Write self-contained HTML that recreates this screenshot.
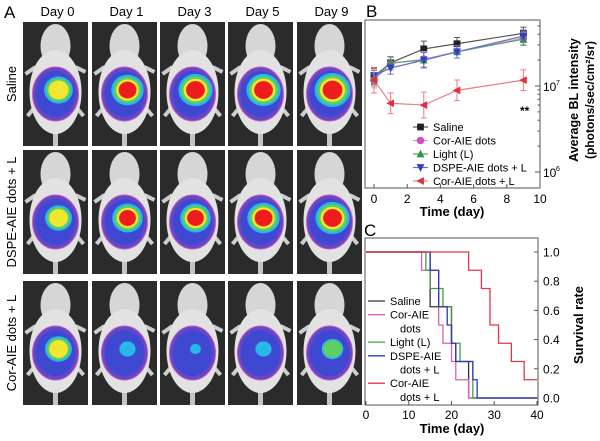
<!DOCTYPE html>
<html><head><meta charset="utf-8"><style>
body{margin:0;background:#fff;}
svg{display:block;font-family:"Liberation Sans",Arial,sans-serif;}
</style></head><body>
<svg id="fig" width="600" height="441" viewBox="0 0 600 441">
<g id="panelA"></g>
<g id="panelB"></g>
<g id="panelC"></g>
</svg>
<script>
// ---------- Panel B data ----------
const bDays = [0, 1, 3, 5, 9];
const bSeriesNames = ["Saline", "Cor-AIE dots", "Light (L)", "DSPE-AIE dots + L", "Cor-AIE dots + L"];
const bSaline = [1.29e7, 1.86e7, 2.7e7, 3.1e7, 4.1e7];
const bCorAIE = [1.17e7, 1.82e7, 2.05e7, 2.5e7, 3.6e7];
const bLight = [1.23e7, 1.86e7, 2.0e7, 2.5e7, 3.5e7];
const bDSPE = [1.32e7, 1.62e7, 2.0e7, 2.5e7, 3.8e7];
const bCorL = [1.17e7, 6.3e6, 6.0e6, 8.9e6, 1.17e7];
const bErr = [0.25, 0.2, 0.25, 0.2, 0.2];
const bXTicks = [0, 2, 4, 6, 8, 10];
// ---------- Panel C data ----------
const cXTicks = [0, 10, 20, 30, 40];
const cYTicks = ["0.0", "0.2", "0.4", "0.6", "0.8", "1.0"];
const cSalineT = [0, 15, 20, 21, 24, 40];
const cSalineS = [1, 0.625, 0.375, 0.25, 0, 0];
const cCorT = [0, 13, 17, 18, 20, 21, 24, 40];
const cCorS = [1, 0.875, 0.5, 0.375, 0.25, 0.125, 0, 0];
const cLightT = [0, 14, 15, 18, 20, 22, 25, 40];
const cLightS = [1, 0.875, 0.75, 0.625, 0.375, 0.25, 0, 0];
const cDSPET = [0, 15, 17, 19, 20, 21, 25, 26, 40];
const cDSPES = [1, 0.875, 0.625, 0.5, 0.375, 0.25, 0.125, 0, 0];
const cCorLT = [0, 24, 27, 29, 31, 34, 37, 40];
const cCorLS = [1, 0.875, 0.75, 0.5, 0.375, 0.25, 0.125, 0.125];
// ---------- Panel A data (signal level per image) ----------
const aDays = ["Day 0", "Day 1", "Day 3", "Day 5", "Day 9"];
const aGroups = ["Saline", "DSPE-AIE dots + L", "Cor-AIE dots + L"];
const aLevels = [[0.8, 0.9, 0.95, 0.95, 1.0], [0.75, 0.85, 0.85, 0.9, 0.95], [0.75, 0.45, 0.3, 0.45, 0.6]];

const NS = "http://www.w3.org/2000/svg";
function mk(tag, attrs, parent, text) {
  const e = document.createElementNS(NS, tag);
  for (const k in attrs) e.setAttribute(k, attrs[k]);
  if (text !== undefined) e.textContent = text;
  parent.appendChild(e);
  return e;
}

// ================= Panel A =================
const A = document.getElementById("panelA");
let t = mk("text", {x: 4, y: 18, "font-size": 17}, A, "A");


const colX = [23, 92, 160, 228, 297];
const colW = 65;
const rowY = [22, 150, 281];
const rowH = 124;
aDays.forEach((d, i) => {
  const h = mk("text", {x: colX[i] + colW / 2 + 2, y: 16, "font-size": 13, "text-anchor": "middle"}, A, d);
  
  
});
aGroups.forEach((g, r) => {
  const cy = rowY[r] + rowH / 2;
  const l = mk("text", {x: 16, y: cy, "font-size": 13, "text-anchor": "middle", transform: `rotate(-90 16 ${cy})`}, A, g);
  
  
});
const heat = ["#6a46c4", "#3f48d0", "#28b8e8", "#5cd060", "#f0e830", "#ee1c1c"];
aGroups.forEach((g, r) => {
  aDays.forEach((d, c) => {
    const x = colX[c], y = rowY[r], cx = x + colW / 2;
    const cell = mk("g", {}, A);
    
    
    mk("rect", {x: x, y: y, width: colW, height: rowH, fill: "#2b2b2b"}, cell);
    mk("rect", {x: cx - 2.5, y: y + rowH - 35, width: 5, height: 35, fill: "#c4c4c4"}, cell);
    mk("path", {d: `M${cx-18},${y+rowH-42} L${cx-28},${y+rowH-30} M${cx+18},${y+rowH-42} L${cx+28},${y+rowH-30} M${cx-20},${y+45} L${cx-30},${y+52} M${cx+20},${y+45} L${cx+30},${y+50}`, stroke: "#cdcdcd", "stroke-width": 4, fill: "none"}, cell);
    mk("ellipse", {cx: cx, cy: y + 24, rx: 15, ry: 22, fill: "#d6d6d6"}, cell);
    mk("ellipse", {cx: cx, cy: y + 70, rx: 26, ry: 42, fill: "#e2e2e2"}, cell);
    const lv = aLevels[r][c];
    const by = y + 72;
    const rx0 = 23, ry0 = 27;
    mk("ellipse", {cx: cx, cy: by, rx: rx0, ry: ry0, fill: heat[0], stroke: "#c060c0", "stroke-width": 1}, cell);
    mk("ellipse", {cx: cx, cy: by, rx: rx0 - 3, ry: ry0 - 4, fill: heat[1]}, cell);
    const n = Math.round(lv * 5.5);
    for (let k = 2; k <= n && k < 6; k++) {
      const s = lv * (1 - (k - 2) * 0.15);
      mk("ellipse", {cx: cx + 3, cy: by - 4, rx: 18 * s, ry: 17 * s, fill: heat[k]}, cell);
    }
  });
});

// ================= Panel B =================
const B = document.getElementById("panelB");
const bx0 = 365, bx1 = 540, by0 = 20, by1 = 188;
const bxs = v => 374 + (v / 10) * 166;
const bys = v => 86 - (Math.log10(v) - 7) * 86;
t = mk("text", {x: 366, y: 17, "font-size": 17}, B, "B");


let fr = mk("rect", {x: bx0, y: by0, width: bx1 - bx0, height: by1 - by0, fill: "none", stroke: "#555", "stroke-width": 1}, B);


bXTicks.forEach(v => {
  mk("line", {x1: bxs(v), x2: bxs(v), y1: by1, y2: by1 - 4, stroke: "#555"}, B);
  const tl = mk("text", {x: bxs(v), y: 203, "font-size": 12, "text-anchor": "middle"}, B, String(v));
  
  
});
[1e6, 1e7].forEach(v => {
  mk("line", {x1: bx1, x2: bx1 - 5, y1: bys(v), y2: bys(v), stroke: "#555"}, B);
  const tl = mk("text", {x: 543, y: bys(v) + 5, "font-size": 12}, B, "10");
  
  
  mk("text", {x: 556, y: bys(v) - 1, "font-size": 7}, B, String(Math.log10(v)));
});
for (let e = 6; e <= 7; e++) for (let m = 2; m <= 9; m++) {
  const yy = bys(m * Math.pow(10, e));
  if (yy > by0 && yy < by1) mk("line", {x1: bx1, x2: bx1 - 2.5, y1: yy, y2: yy, stroke: "#555"}, B);
}
t = mk("text", {x: 452, y: 216, "font-size": 13, "font-weight": "bold", "text-anchor": "middle"}, B, "Time (day)");


t = mk("text", {x: 0, y: 0, "font-size": 12.5, "font-weight": "bold", "text-anchor": "middle", transform: "translate(578 100) rotate(-90)"}, B, "Average BL intensity");


t = mk("text", {x: 0, y: 0, "font-size": 12, "font-weight": "bold", "text-anchor": "middle", transform: "translate(594 100) rotate(-90)"}, B, "(photons/sec/cm²/sr)");


t = mk("text", {x: 520, y: 115, "font-size": 12, "font-weight": "bold"}, B, "**");



const bSeries = [bSaline, bCorAIE, bLight, bDSPE, bCorL];
const bColors = ["#222", "#d050c0", "#2a9a3a", "#3040c0", "#e0303c"];
const bLine = ["#555", "#e090d8", "#60a060", "#6070d0", "#f07a86"];
function marker(g, k, x, y, col) {
  const s = 3.4;
  if (k === 0) mk("rect", {x: x - s, y: y - s, width: 2 * s, height: 2 * s, fill: col}, g);
  else if (k === 1) mk("circle", {cx: x, cy: y, r: s + 0.4, fill: col}, g);
  else if (k === 2) mk("polygon", {points: `${x},${y-s-1} ${x-s-0.5},${y+s} ${x+s+0.5},${y+s}`, fill: col}, g);
  else if (k === 3) mk("polygon", {points: `${x},${y+s+1} ${x-s-0.5},${y-s} ${x+s+0.5},${y-s}`, fill: col}, g);
  else mk("polygon", {points: `${x-s-1},${y} ${x+s},${y-s-0.5} ${x+s},${y+s+0.5}`, fill: col}, g);
}
bSeries.forEach((ser, k) => {
  const g = mk("g", {}, B);
  
  
  ser.forEach((v, i) => {
    const x = bxs(bDays[i]);
    const e = bErr[i] * (k === 4 ? 1.0 : 0.6);
    const yt = bys(v * Math.pow(10, e * 0.6)), yb = bys(v / Math.pow(10, e * 0.6));
    mk("path", {d: `M${x},${yt}V${yb}M${x-3},${yt}H${x+3}M${x-3},${yb}H${x+3}`, stroke: bLine[k], "stroke-width": 1, fill: "none"}, g);
  });
  mk("polyline", {points: ser.map((v, i) => `${bxs(bDays[i])},${bys(v)}`).join(" "), fill: "none", stroke: bLine[k], "stroke-width": 1.2}, g);
  ser.forEach((v, i) => marker(g, k, bxs(bDays[i]), bys(v), bColors[k]));
});
bSeriesNames.forEach((nm, k) => {
  const yy = 127 + k * 13.5;
  const g = mk("g", {}, B);
  
  
  mk("line", {x1: 413, x2: 428, y1: yy, y2: yy, stroke: bLine[k], "stroke-width": 1.2}, g);
  marker(g, k, 420.5, yy, bColors[k]);
  mk("text", {x: 433, y: yy + 4, "font-size": 11}, g, nm);
});

// ================= Panel C =================
const C = document.getElementById("panelC");
const cx0 = 365, cx1 = 538, cy0 = 238, cy1 = 405;
const cxs = v => 366 + (v / 40) * 171;
const cys = v => 398 - v * 146;
t = mk("text", {x: 364, y: 236, "font-size": 17}, C, "C");


fr = mk("rect", {x: cx0, y: cy0, width: cx1 - cx0, height: cy1 - cy0, fill: "none", stroke: "#555", "stroke-width": 1}, C);


cXTicks.forEach(v => {
  mk("line", {x1: cxs(v), x2: cxs(v), y1: cy1, y2: cy1 - 4, stroke: "#555"}, C);
  const tl = mk("text", {x: cxs(v), y: 419, "font-size": 12, "text-anchor": "middle"}, C, String(v));
  
  
});
cYTicks.forEach(s => {
  const v = parseFloat(s);
  mk("line", {x1: cx1, x2: cx1 - 4, y1: cys(v), y2: cys(v), stroke: "#555"}, C);
  const tl = mk("text", {x: 543, y: cys(v) + 4.5, "font-size": 12}, C, s);
  
  
});
t = mk("text", {x: 452, y: 433, "font-size": 13, "font-weight": "bold", "text-anchor": "middle"}, C, "Time (day)");


t = mk("text", {x: 0, y: 0, "font-size": 13, "font-weight": "bold", "text-anchor": "middle", transform: "translate(583 325) rotate(-90)"}, C, "Survival rate");


const cSeries = [[cSalineT, cSalineS], [cCorT, cCorS], [cLightT, cLightS], [cDSPET, cDSPES], [cCorLT, cCorLS]];
const cColors = ["#333", "#d860b8", "#40a040", "#3038b8", "#e03848"];
cSeries.forEach(([T, S], k) => {
  let d = `M${cxs(T[0])},${cys(S[0])}`;
  for (let i = 1; i < T.length; i++) d += `H${cxs(T[i])}V${cys(S[i])}`;
  const p = mk("path", {d: d, fill: "none", stroke: cColors[k], "stroke-width": 1.3}, C);
  
  
});
const cLegend = [["Saline"], ["Cor-AIE", "dots"], ["Light (L)"], ["DSPE-AIE", "dots + L"], ["Cor-AIE", "dots + L"]];
let ly = 301;
cLegend.forEach((lines, k) => {
  const g = mk("g", {}, C);
  
  
  mk("line", {x1: 368, x2: 385, y1: ly, y2: ly, stroke: cColors[k], "stroke-width": 1.3}, g);
  lines.forEach((s, j) => {
    mk("text", {x: j === 0 ? 390 : 400, y: ly + 4 + j * 13.7, "font-size": 11}, g, s);
  });
  ly += 13.7 * lines.length;
});
</script>
</body></html>
